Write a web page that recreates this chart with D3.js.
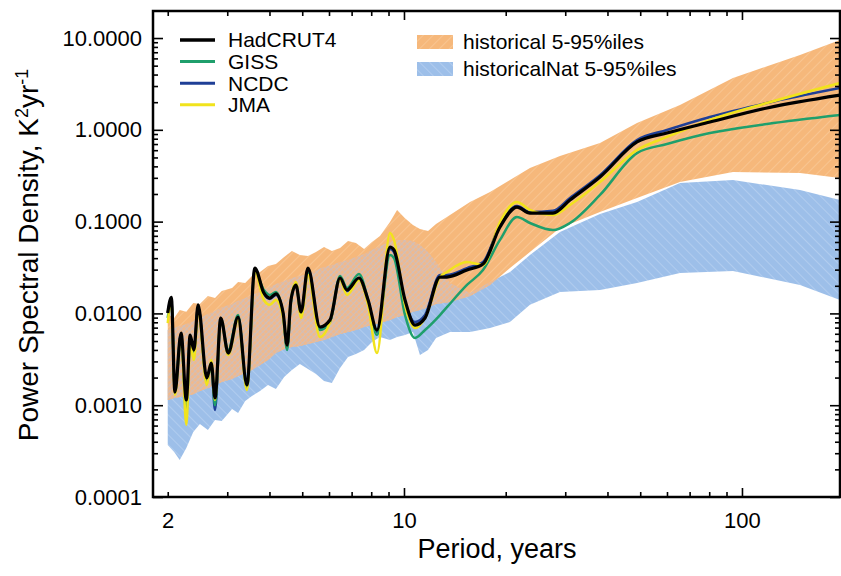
<!DOCTYPE html>
<html>
<head>
<meta charset="utf-8">
<script src="https://cdn.jsdelivr.net/npm/d3@7"></script>
<style>
  html, body { margin: 0; padding: 0; background: #fff; }
  svg { display: block; font-family: 'Liberation Sans', Arial, Helvetica, sans-serif; }
</style>
</head>
<body>
<div id="chart"></div>
<script>
// ━━━━━━━━━━━━━━━━━━━━━━━━━━━━━━━━━━━━━━━━━━━━━━━━━━━━━━━━━━━━━━━━━━━━━━━━━━━━━━━━━━━━
// Data: power spectral density (K² yr⁻¹) by period (years) /////////////////////////////
// ━━━━━━━━━━━━━━━━━━━━━━━━━━━━━━━━━━━━━━━━━━━━━━━━━━━━━━━━━━━━━━━━━━━━━━━━━━━━━━━━━━━━

const periods = [2.00, 2.05, 2.10, 2.19, 2.27, 2.33, 2.39, 2.46, 2.61, 2.69, 2.76, 2.87, 3.02, 3.23,
  3.43, 3.62, 3.85, 4.01, 4.18, 4.39, 4.51, 4.63, 4.79, 4.96, 5.20, 5.64, 6.04, 6.47, 6.78, 7.36,
  7.83, 8.32, 9.09, 9.34, 10.07, 10.78, 11.54, 12.78, 13.40, 15.36, 17.13, 19.23, 21.59, 23.59,
  27.59, 30.98, 38.01, 48.91, 59.99, 80.40, 118.6, 195];

const hadcrut4 = [0.0101, 0.0150, 0.00139, 0.00611, 0.00114, 0.00582, 0.00399, 0.0124, 0.00198,
  0.00288, 0.00120, 0.00891, 0.00370, 0.00913, 0.00166, 0.0312, 0.0167, 0.0147, 0.0163, 0.0101,
  0.00452, 0.0140, 0.0204, 0.0104, 0.0312, 0.00711, 0.00847, 0.0243, 0.0180, 0.0243, 0.0140,
  0.00660, 0.0529, 0.0491, 0.0140, 0.00747, 0.00891, 0.0249, 0.0249, 0.0297, 0.0345, 0.0873,
  0.144, 0.124, 0.124, 0.172, 0.306, 0.737, 0.923, 1.216, 1.73, 2.39];

const giss = [0.00891, 0.0140, 0.00146, 0.00582, 0.000782, 0.00540, 0.00379, 0.0115, 0.00179,
  0.00274, 0.00100, 0.00847, 0.00399, 0.00960, 0.00154, 0.0283, 0.0180, 0.0159, 0.0171, 0.00960,
  0.00399, 0.0133, 0.0214, 0.00960, 0.0283, 0.00660, 0.00806, 0.0255, 0.0189, 0.0269, 0.0140,
  0.00582, 0.0433, 0.0401, 0.00960, 0.00540, 0.00660, 0.00960, 0.0117, 0.0204, 0.0297, 0.0632,
  0.112, 0.0966, 0.0810, 0.0966, 0.195, 0.558, 0.701, 0.923, 1.157, 1.45];

const ncdc = [0.0101, 0.0147, 0.00139, 0.00596, 0.000887, 0.00553, 0.00399, 0.0120, 0.00188,
  0.00281, 0.000887, 0.00891, 0.00361, 0.00913, 0.00162, 0.0304, 0.0163, 0.0144, 0.0159, 0.00984,
  0.00420, 0.0137, 0.0204, 0.0101, 0.0304, 0.00694, 0.00825, 0.0237, 0.0175, 0.0237, 0.0137,
  0.00626, 0.0503, 0.0467, 0.0133, 0.00806, 0.00960, 0.0262, 0.0262, 0.0312, 0.0363, 0.0919,
  0.148, 0.127, 0.131, 0.181, 0.321, 0.774, 0.995, 1.38, 1.96, 2.85];

const jma = [0.00786, 0.0140, 0.00129, 0.00582, 0.000609, 0.00452, 0.00310, 0.0109, 0.00166,
  0.00310, 0.00114, 0.00891, 0.00352, 0.00847, 0.00146, 0.0283, 0.0140, 0.0124, 0.0140, 0.00891,
  0.00452, 0.0140, 0.0220, 0.00891, 0.0262, 0.00553, 0.00806, 0.0231, 0.0159, 0.0231, 0.0124,
  0.00370, 0.0752, 0.0632, 0.0124, 0.00694, 0.00891, 0.0249, 0.0283, 0.0363, 0.0337, 0.0988,
  0.164, 0.134, 0.118, 0.152, 0.270, 0.602, 0.836, 1.28, 1.96, 3.23];

// 5-95 percentile envelopes of the model ensembles
const bandPeriods = [2.00, 2.09, 2.17, 2.27, 2.38, 2.49, 2.63, 2.76, 2.89, 3.10, 3.23, 3.39, 3.55,
  3.75, 3.96, 4.18, 4.42, 4.66, 4.92, 5.20, 5.49, 5.80, 6.12, 6.47, 6.83, 7.21, 7.62, 8.04, 8.49,
  9.09, 9.54, 10.07, 10.63, 11.15, 11.78, 12.44, 13.68, 15.68, 17.97, 20.59, 23.59, 28.94, 38.01,
  48.91, 65.55, 94.05, 148.5, 195];

const historicalHigh = [0.00985, 0.00891, 0.0109, 0.0104, 0.0130, 0.0127, 0.0155, 0.0147, 0.0175,
  0.0189, 0.0220, 0.0214, 0.0255, 0.0283, 0.0328, 0.0345, 0.0412, 0.0478, 0.0433, 0.0422, 0.0466,
  0.0529, 0.0478, 0.0516, 0.0615, 0.0585, 0.0503, 0.0600, 0.0697, 0.0990, 0.134, 0.109, 0.0919,
  0.0830, 0.0790, 0.0940, 0.118, 0.164, 0.210, 0.284, 0.383, 0.518, 0.719, 1.19, 1.86, 3.67, 6.53, 9.51];

const historicalLow = [0.00114, 0.00120, 0.00123, 0.00126, 0.00132, 0.00143, 0.00154, 0.00166,
  0.00179, 0.00193, 0.00208, 0.00224, 0.00242, 0.00274, 0.00310, 0.00370, 0.00409, 0.00430,
  0.00441, 0.00464, 0.00488, 0.00513, 0.00553, 0.00596, 0.00626, 0.00660, 0.00711, 0.00747,
  0.00786, 0.00847, 0.00913, 0.00960, 0.0104, 0.0109, 0.0117, 0.0127, 0.0133, 0.0155, 0.0204,
  0.0312, 0.0466, 0.0851, 0.127, 0.181, 0.270, 0.347, 0.338, 0.299];

const historicalNatHigh = [0.00660, 0.00694, 0.00729, 0.00766, 0.00825, 0.00891, 0.00985, 0.0106,
  0.0117, 0.0127, 0.0137, 0.0147, 0.0159, 0.0171, 0.0189, 0.0209, 0.0225, 0.0243, 0.0255, 0.0269,
  0.0297, 0.0320, 0.0337, 0.0363, 0.0381, 0.0412, 0.0444, 0.0491, 0.0543, 0.0600, 0.0632, 0.0632,
  0.0615, 0.0556, 0.0466, 0.0363, 0.0214, 0.0167, 0.0220, 0.0283, 0.0433, 0.0770, 0.121, 0.164,
  0.263, 0.284, 0.221, 0.172];

const historicalNatLow = [0.000368, 0.000309, 0.000253, 0.000342, 0.000511, 0.000624, 0.000537,
  0.000690, 0.000673, 0.000909, 0.000822, 0.00111, 0.00126, 0.00143, 0.00166, 0.00150, 0.00203,
  0.00242, 0.00281, 0.00248, 0.00219, 0.00184, 0.00175, 0.00254, 0.00335, 0.00361, 0.00399,
  0.00488, 0.00553, 0.00513, 0.00553, 0.00582, 0.00626, 0.00352, 0.00399, 0.00540, 0.00626,
  0.00626, 0.00694, 0.00806, 0.0124, 0.0171, 0.0180, 0.0214, 0.0275, 0.0290, 0.0204, 0.0140];

const yTickValues = [0.0001, 0.001, 0.01, 0.1, 1, 10];
const xTickLabels = [2, 10, 100];
const seriesNames = ['HadCRUT4', 'GISS', 'NCDC', 'JMA'];
const bandNames = ['historical 5-95%iles', 'historicalNat 5-95%iles'];

// ━━━━━━━━━━━━━━━━━━━━━━━━━━━━━━━━━━━━━━━━━━━━━━━━━━━━━━━━━━━━━━━━━━━━━━━━━━━━━━━━━━━━
// SVG setup //////////////////////////////////////////////////////////////////////////
// ━━━━━━━━━━━━━━━━━━━━━━━━━━━━━━━━━━━━━━━━━━━━━━━━━━━━━━━━━━━━━━━━━━━━━━━━━━━━━━━━━━━━

const width = 841;
const height = 576;
const plot = { left: 153, right: 840, top: 11, bottom: 497 };

const svg = d3.select('#chart').append('svg')
  .attr('width', width)
  .attr('height', height)
  .attr('viewBox', [0, 0, width, height]);

svg.append('rect').attr('width', width).attr('height', height).attr('fill', '#fff');

const x = d3.scaleLog().domain([1.809, 195]).range([plot.left, plot.right]);
const y = d3.scaleLog().domain([0.0001, 19.7]).range([plot.bottom, plot.top]);

const colors = { HadCRUT4: '#000000', GISS: '#1f9f6c', NCDC: '#1f3f96', JMA: '#f1e31c' };
const strokeW = { HadCRUT4: 3.2, GISS: 2.5, NCDC: 2.5, JMA: 2.5 };
const values = { HadCRUT4: hadcrut4, GISS: giss, NCDC: ncdc, JMA: jma };

const defs = svg.append('defs');

defs.append('clipPath').attr('id', 'plot-clip')
  .append('rect')
  .attr('x', plot.left).attr('y', plot.top)
  .attr('width', plot.right - plot.left).attr('height', plot.bottom - plot.top);

// hatch patterns (the printed figure has thin diagonal hatching in both envelopes)
function hatch(id, base, line, angle, size) {
  const p = defs.append('pattern')
    .attr('id', id)
    .attr('patternUnits', 'userSpaceOnUse')
    .attr('width', size).attr('height', size)
    .attr('patternTransform', `rotate(${angle})`);
  p.append('rect').attr('width', size).attr('height', size).attr('fill', base);
  p.append('line').attr('x1', 0).attr('y1', 0).attr('x2', 0).attr('y2', size)
    .attr('stroke', line).attr('stroke-width', 1);
  return p;
}
hatch('hatch-hist', '#f6b87b', '#fbd2a6', 45, 7);
hatch('hatch-nat', '#9dbfe9', '#c6daf3', -45, 7);

const mix = defs.append('pattern')
  .attr('id', 'hatch-mix')
  .attr('patternUnits', 'userSpaceOnUse')
  .attr('width', 4).attr('height', 4)
  .attr('patternTransform', 'rotate(45)');
mix.append('rect').attr('width', 4).attr('height', 4).attr('fill', '#efb98e');
mix.append('line').attr('x1', 0).attr('y1', 0).attr('x2', 0).attr('y2', 4)
  .attr('stroke', '#b3c6e2').attr('stroke-width', 1.1);
mix.append('line').attr('x1', 0).attr('y1', 0).attr('x2', 4).attr('y2', 0)
  .attr('stroke', '#c9bfc4').attr('stroke-width', 1.1);

// ━━━━━━━━━━━━━━━━━━━━━━━━━━━━━━━━━━━━━━━━━━━━━━━━━━━━━━━━━━━━━━━━━━━━━━━━━━━━━━━━━━━━
// Envelopes //////////////////////////////////////////////////////////////////////////
// ━━━━━━━━━━━━━━━━━━━━━━━━━━━━━━━━━━━━━━━━━━━━━━━━━━━━━━━━━━━━━━━━━━━━━━━━━━━━━━━━━━━━

const bandIdx = d3.range(bandPeriods.length);

const natArea = d3.area()
  .x(i => x(bandPeriods[i]))
  .y0(i => y(historicalNatLow[i]))
  .y1(i => y(historicalNatHigh[i]));

const histArea = d3.area()
  .x(i => x(bandPeriods[i]))
  .y0(i => y(historicalLow[i]))
  .y1(i => y(historicalHigh[i]));

defs.append('clipPath').attr('id', 'nat-clip')
  .append('path').attr('d', natArea(bandIdx));

const bands = svg.append('g').attr('clip-path', 'url(#plot-clip)');

bands.append('path').attr('d', natArea(bandIdx)).attr('fill', 'url(#hatch-nat)');
bands.append('path').attr('d', histArea(bandIdx)).attr('fill', 'url(#hatch-hist)');
bands.append('g').attr('clip-path', 'url(#nat-clip)')
  .append('path').attr('d', histArea(bandIdx)).attr('fill', 'url(#hatch-mix)');

// ━━━━━━━━━━━━━━━━━━━━━━━━━━━━━━━━━━━━━━━━━━━━━━━━━━━━━━━━━━━━━━━━━━━━━━━━━━━━━━━━━━━━
// Observational spectra //////////////////////////////////////////////////////////////
// ━━━━━━━━━━━━━━━━━━━━━━━━━━━━━━━━━━━━━━━━━━━━━━━━━━━━━━━━━━━━━━━━━━━━━━━━━━━━━━━━━━━━

const idx = d3.range(periods.length);
const lines = svg.append('g').attr('clip-path', 'url(#plot-clip)');

['NCDC', 'GISS', 'JMA', 'HadCRUT4'].forEach(name => {
  const line = d3.line()
    .x(i => x(periods[i]))
    .y(i => y(values[name][i]))
    .curve(d3.curveMonotoneX);
  lines.append('path')
    .attr('d', line(idx))
    .attr('fill', 'none')
    .attr('stroke', colors[name])
    .attr('stroke-width', strokeW[name])
    .attr('stroke-linejoin', 'round');
});

// ━━━━━━━━━━━━━━━━━━━━━━━━━━━━━━━━━━━━━━━━━━━━━━━━━━━━━━━━━━━━━━━━━━━━━━━━━━━━━━━━━━━━
// Axes (ticks point inwards on all four sides) ///////////////////////////////////////
// ━━━━━━━━━━━━━━━━━━━━━━━━━━━━━━━━━━━━━━━━━━━━━━━━━━━━━━━━━━━━━━━━━━━━━━━━━━━━━━━━━━━━

const yMinor = y.ticks().filter(d => !yTickValues.some(v => Math.abs(v - d) / v < 1e-6));
const xAll = x.ticks();
const xMajor = [10, 100];
const xMinor = xAll.filter(d => !xMajor.includes(d));

function styleAxis(g) {
  g.select('.domain').remove();
  g.selectAll('line').attr('stroke', '#000').attr('stroke-width', 1.6);
  g.selectAll('text').attr('fill', '#000');
  g.attr('font-family', null).attr('font-size', 22);
}

// left
svg.append('g').attr('transform', `translate(${plot.left},0)`)
  .call(d3.axisLeft(y).tickValues(yTickValues).tickSize(-10).tickPadding(11).tickFormat(d3.format('.4f')))
  .call(styleAxis);
svg.append('g').attr('transform', `translate(${plot.left},0)`)
  .call(d3.axisLeft(y).tickValues(yMinor).tickSize(-5).tickFormat(''))
  .call(styleAxis);

// right
svg.append('g').attr('transform', `translate(${plot.right},0)`)
  .call(d3.axisRight(y).tickValues(yTickValues).tickSize(-10).tickFormat(''))
  .call(styleAxis);
svg.append('g').attr('transform', `translate(${plot.right},0)`)
  .call(d3.axisRight(y).tickValues(yMinor).tickSize(-5).tickFormat(''))
  .call(styleAxis);

// bottom
svg.append('g').attr('transform', `translate(0,${plot.bottom})`)
  .call(d3.axisBottom(x).tickValues(xTickLabels).tickSize(0).tickPadding(15).tickFormat(d3.format('d')))
  .call(styleAxis);
svg.append('g').attr('transform', `translate(0,${plot.bottom})`)
  .call(d3.axisBottom(x).tickValues(xMajor).tickSize(-9).tickFormat(''))
  .call(styleAxis);
svg.append('g').attr('transform', `translate(0,${plot.bottom})`)
  .call(d3.axisBottom(x).tickValues(xMinor).tickSize(-5).tickFormat(''))
  .call(styleAxis);

// top
svg.append('g').attr('transform', `translate(0,${plot.top})`)
  .call(d3.axisTop(x).tickValues(xMajor).tickSize(-9).tickFormat(''))
  .call(styleAxis);
svg.append('g').attr('transform', `translate(0,${plot.top})`)
  .call(d3.axisTop(x).tickValues(xMinor).tickSize(-5).tickFormat(''))
  .call(styleAxis);

// frame
svg.append('rect')
  .attr('x', plot.left).attr('y', plot.top)
  .attr('width', plot.right - plot.left).attr('height', plot.bottom - plot.top)
  .attr('fill', 'none').attr('stroke', '#000').attr('stroke-width', 2.5);

// axis titles
svg.append('text')
  .attr('x', 497).attr('y', 558)
  .attr('text-anchor', 'middle')
  .attr('font-size', 27)
  .text('Period, years');

const yTitle = svg.append('text')
  .attr('transform', 'translate(38,255) rotate(-90)')
  .attr('text-anchor', 'middle')
  .attr('font-size', 28);
yTitle.append('tspan').text('Power Spectral Density, K');
yTitle.append('tspan').attr('font-size', 18).attr('dy', -10).text('2');
yTitle.append('tspan').attr('dy', 10).text('yr');
yTitle.append('tspan').attr('font-size', 18).attr('dy', -10).text('-1');

// ━━━━━━━━━━━━━━━━━━━━━━━━━━━━━━━━━━━━━━━━━━━━━━━━━━━━━━━━━━━━━━━━━━━━━━━━━━━━━━━━━━━━
// Legends ////////////////////////////////////////////////////////////////////////////
// ━━━━━━━━━━━━━━━━━━━━━━━━━━━━━━━━━━━━━━━━━━━━━━━━━━━━━━━━━━━━━━━━━━━━━━━━━━━━━━━━━━━━

const legend = svg.append('g').attr('font-size', 21);

legend.selectAll('g.series')
  .data(seriesNames)
  .join('g')
  .attr('class', 'series')
  .attr('transform', (d, i) => `translate(0,${40 + i * 21.6})`)
  .each(function (d) {
    const g = d3.select(this);
    g.append('line').attr('x1', 180).attr('x2', 215)
      .attr('stroke', colors[d]).attr('stroke-width', d === 'HadCRUT4' ? 3.6 : 3);
    g.append('text').attr('x', 228).attr('dy', '0.35em').text(d);
  });

const bandFills = ['url(#hatch-hist)', 'url(#hatch-nat)'];

legend.selectAll('g.band')
  .data(bandNames)
  .join('g')
  .attr('class', 'band')
  .attr('transform', (d, i) => `translate(0,${42 + i * 27})`)
  .each(function (d, i) {
    const g = d3.select(this);
    g.append('rect').attr('x', 417).attr('y', -7).attr('width', 36).attr('height', 14)
      .attr('fill', bandFills[i]);
    g.append('text').attr('x', 463).attr('dy', '0.35em').text(d);
  });
</script>
</body>
</html>
